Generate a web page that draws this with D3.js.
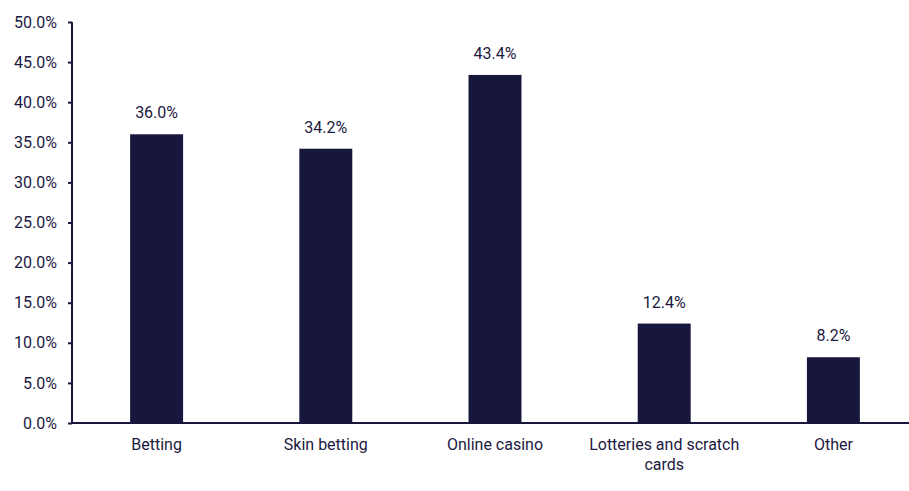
<!DOCTYPE html>
<html><head><meta charset="utf-8">
<script src="https://cdn.jsdelivr.net/npm/d3@7"></script>
<style>body{margin:0;background:#fff}svg{display:block}text{font-family:Roboto,sans-serif;fill:#1b1a40}</style>
</head><body><svg id="c" width="909" height="491"></svg>
<script>
const categories = ["Betting","Skin betting","Online casino","Lotteries and scratch cards","Other"];
const values = [36.0, 34.2, 43.4, 12.4, 8.2];
const yTicks = [0,5,10,15,20,25,30,35,40,45,50];
const labelLines = [["Betting"],["Skin betting"],["Online casino"],["Lotteries and scratch","cards"],["Other"]];

const FS = 16;
const svg = d3.select("#c");
const color = "#17173d";
const x = d3.scaleBand().domain(categories).range([72, 918]).paddingInner(0.687).paddingOuter(0.3435);
const y = d3.scaleLinear().domain([0,50]).range([423, 22]);

// bars
svg.selectAll("rect.bar").data(values).enter().append("rect")
  .attr("x",(d,i)=>x(categories[i])).attr("width",x.bandwidth())
  .attr("y",d=>y(d)).attr("height",d=>y(0)-y(d)).attr("fill",color);

// value labels
svg.selectAll("text.val").data(values).enter().append("text")
  .attr("x",(d,i)=>x(categories[i])+x.bandwidth()/2).attr("y",d=>y(d)-16)
  .attr("text-anchor","middle").attr("font-size",FS).text(d=>d.toFixed(1)+"%");

// y axis
const ya = svg.append("g").attr("transform","translate(72,0)")
  .call(d3.axisLeft(y).tickValues(yTicks).tickSize(4).tickPadding(11).tickFormat(d=>d.toFixed(1)+"%"));
ya.select(".domain").attr("stroke",color).attr("stroke-width",2).attr("d","M0,"+y(50)+"V"+y(0));
ya.selectAll(".tick line").attr("stroke",color).attr("stroke-width",2);
ya.selectAll(".tick text").attr("font-size",FS).attr("fill","#1b1a40").style("font-family","Roboto,sans-serif");

// x axis
const xa = svg.append("g").attr("transform","translate(0,"+y(0)+")")
  .call(d3.axisBottom(x).tickSize(0).tickFormat(""));
xa.select(".domain").attr("stroke",color).attr("stroke-width",2).attr("d","M71,0H909");
xa.selectAll(".tick").each(function(d,i){
  const t = d3.select(this).append("text").attr("text-anchor","middle").attr("font-size",FS).style("fill","#1b1a40");
  labelLines[i].forEach((l,j)=>t.append("tspan").attr("x",0).attr("y",27+j*20).text(l));
});
</script></body></html>
